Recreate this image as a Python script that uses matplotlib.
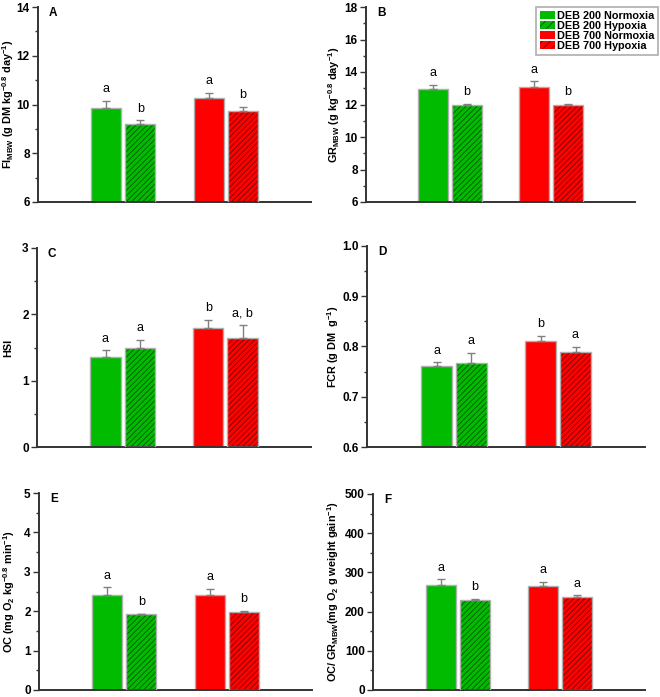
import matplotlib
matplotlib.use("Agg")
import matplotlib.pyplot as plt
from matplotlib.patches import Patch
from matplotlib.ticker import MultipleLocator

plt.rcParams['font.family'] = ['Liberation Sans', 'DejaVu Sans']
plt.rcParams['hatch.linewidth'] = 0.6

groups = ["DEB 200 Normoxia", "DEB 200 Hypoxia", "DEB 700 Normoxia", "DEB 700 Hypoxia"]
x_pos = [2, 3, 5, 6]

fi_mean = [9.85, 9.20, 10.28, 9.72]
fi_err = [0.30, 0.16, 0.20, 0.18]
fi_letters = ["a", "b", "a", "b"]

gr_mean = [12.95, 11.97, 13.05, 11.98]
gr_err = [0.28, 0.08, 0.38, 0.06]
gr_letters = ["a", "b", "a", "b"]

hsi_mean = [1.36, 1.49, 1.80, 1.64]
hsi_err = [0.10, 0.13, 0.12, 0.20]
hsi_letters = ["a", "a", "b", "a, b"]

fcr_mean = [0.762, 0.768, 0.810, 0.789]
fcr_err = [0.007, 0.020, 0.011, 0.010]
fcr_letters = ["a", "a", "b", "a"]

oc_mean = [2.41, 1.92, 2.41, 1.99]
oc_err = [0.20, 0.01, 0.16, 0.02]
oc_letters = ["a", "b", "a", "b"]

ocgr_mean = [268, 230, 266, 238]
ocgr_err = [15, 3, 10, 4]
ocgr_letters = ["a", "b", "a", "a"]

fill_colors = ["#00bb00", "#00bb00", "#ff0000", "#ff0000"]
hatch_colors = ["#005500", "#005500", "#7a0000", "#7a0000"]
hatches = [None, "//////", None, "//////"]

W, H = 660, 697
fig = plt.figure(figsize=(6.6, 6.97), dpi=100)


def add_axes(l, r, t, b):
    return fig.add_axes([l / W, 1 - b / H, (r - l) / W, (b - t) / H])


def panel(ax, mean, err, letters, ylim, major, minor, ylabel, tag, label_px):
    for i in range(4):
        if hatches[i]:
            ax.bar(x_pos[i], mean[i], width=0.88, color=fill_colors[i],
                   hatch=hatches[i], edgecolor=hatch_colors[i], linewidth=0, zorder=2)
            ax.bar(x_pos[i], mean[i], width=0.88, fill=False,
                   edgecolor="#b0b0b0", linewidth=1.0, zorder=3)
        else:
            ax.bar(x_pos[i], mean[i], width=0.88, color=fill_colors[i],
                   edgecolor="#b0b0b0", linewidth=1.0, zorder=2)
    ax.errorbar(x_pos, mean, yerr=[[0] * 4, err], fmt="none", ecolor="#808080",
                elinewidth=1.0, capsize=3, capthick=1.0, zorder=4)
    for i in range(4):
        ax.annotate(letters[i], (x_pos[i], mean[i] + err[i]), xytext=(0, 4),
                    textcoords="offset points", ha="center", va="bottom", fontsize=9)
    ax.set_xlim(0, 8)
    ax.set_ylim(*ylim)
    ax.yaxis.set_major_locator(MultipleLocator(major))
    ax.yaxis.set_minor_locator(MultipleLocator(minor))
    ax.set_xticks([])
    for s in ["top", "right"]:
        ax.spines[s].set_visible(False)
    for s in ["left", "bottom"]:
        ax.spines[s].set_linewidth(1.4)
        ax.spines[s].set_color("#333333")
    ax.tick_params(axis="y", which="major", length=4, width=1, labelsize=8.5,
                   color="#333333", pad=2)
    ax.tick_params(axis="y", which="minor", length=2.5, width=1, color="#333333")
    for lab in ax.get_yticklabels():
        lab.set_fontweight("bold")
    ax.set_ylabel(ylabel, fontsize=7.8, fontweight="bold")
    # put the right edge of the rotated label at a given pixel column
    bb = ax.get_position()
    ax.yaxis.set_label_coords((label_px / W - bb.x0) / bb.width, 0.5)
    ax.text(0.04, 1.0, tag, transform=ax.transAxes, fontsize=8.5, fontweight="bold",
            va="top", ha="left")


axA = add_axes(38, 311, 7, 202)
panel(axA, fi_mean, fi_err, fi_letters, (6, 14), 2, 1,
      r"FI$_{\mathregular{MBW}}$ (g DM kg$^{\mathregular{-0.8}}$ day$^{\mathregular{-1}}$)", "A", 16)
axB = add_axes(366, 635, 7, 202)
panel(axB, gr_mean, gr_err, gr_letters, (6, 18), 2, 1,
      r"GR$_{\mathregular{MBW}}$ (g kg$^{\mathregular{-0.8}}$ day$^{\mathregular{-1}}$)", "B", 342)
axC = add_axes(37, 311, 248, 447)
panel(axC, hsi_mean, hsi_err, hsi_letters, (0, 3), 1, 0.5, "HSI", "C", 13)
axD = add_axes(367, 645, 246, 447)
panel(axD, fcr_mean, fcr_err, fcr_letters, (0.6, 1.0), 0.1, 0.05,
      r"FCR (g DM  g$^{\mathregular{-1}}$)", "D", 341)
axE = add_axes(39, 312, 493, 690)
panel(axE, oc_mean, oc_err, oc_letters, (0, 5), 1, 0.5,
      r"OC (mg O$_{\mathregular{2}}$ kg$^{\mathregular{-0.8}}$ min$^{\mathregular{-1}}$)", "E", 17)
axF = add_axes(373, 645, 494, 690)
panel(axF, ocgr_mean, ocgr_err, ocgr_letters, (0, 500), 100, 50,
      r"OC/ GR$_{\mathregular{MBW}}$(mg O$_{\mathregular{2}}$ g weight gain$^{\mathregular{-1}}$)", "F", 341)

handles = []
for i in range(4):
    if hatches[i]:
        handles.append(Patch(facecolor=fill_colors[i], edgecolor=hatch_colors[i],
                             hatch="////", linewidth=0))
    else:
        handles.append(Patch(facecolor=fill_colors[i], edgecolor=fill_colors[i], linewidth=0))
leg = fig.legend(handles, groups, loc="upper left", bbox_to_anchor=(536 / W, 1 - 7 / H),
                 prop={"weight": "bold", "size": 7.8}, frameon=True, fancybox=False,
                 handlelength=1.4, handleheight=0.8, handletextpad=0.15,
                 labelspacing=0.0, borderpad=0.35, borderaxespad=0)
leg.get_frame().set_edgecolor("#999999")
leg.get_frame().set_linewidth(1.2)

fig.savefig("out.png", dpi=100)
